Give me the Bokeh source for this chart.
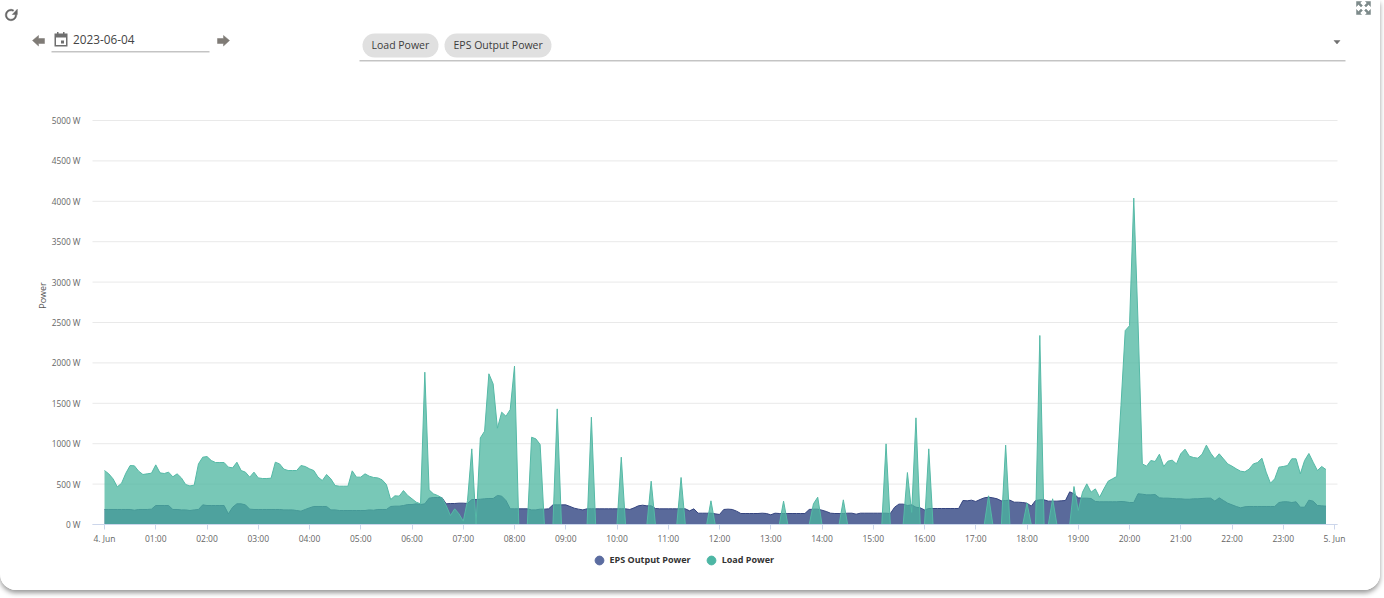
import numpy as np
from bokeh.plotting import figure
from bokeh.models import Range1d, FixedTicker, Legend, LegendItem, ColumnDataSource
from bokeh.core.properties import value
from bokeh.embed import file_html
from bokeh.resources import INLINE

DATE_TEXT = "2023-06-04"
CHIPS = ["Load Power", "EPS Output Power"]
Y_TICKS = [0, 500, 1000, 1500, 2000, 2500, 3000, 3500, 4000, 4500, 5000]
Y_LABELS = [f"{v} W" for v in Y_TICKS]
X_TICKS = list(range(25))
X_LABELS = ["4. Jun"] + [f"{h:02d}:00" for h in range(1, 24)] + ["5. Jun"]

# Values every 5 minutes, one row per hour of the day
load_00 = [668,627,565,466,511,635,730,726,660,619,627,635]
load_01 = [738,639,631,648,590,627,577,495,478,487,750,833]
load_02 = [841,792,767,767,767,710,701,771,668,648,586,648]
load_03 = [577,569,569,573,771,750,685,668,668,668,730,718]
load_04 = [689,668,586,544,619,565,482,474,474,474,664,586]
load_05 = [586,627,598,582,577,553,495,309,355,351,420,359]
load_06 = [318,276,256,1885,429,380,359,330,235,111,194,132]
load_07 = [41,297,936,0,1072,1155,1865,1740,1192,1390,1340,1423]
load_08 = [1960,0,0,0,1080,1060,990,0,0,0,1431,0]
load_09 = [0,0,0,0,0,0,1328,0,0,0,0,0]
load_10 = [0,833,0,0,0,0,0,0,536,0,0,0]
load_11 = [0,0,0,582,0,0,0,0,0,0,293,0]
load_12 = [0,0,0,0,0,0,0,0,0,0,0,0]
load_13 = [0,0,0,289,0,0,0,0,0,0,256,338]
load_14 = [0,0,0,0,0,305,0,0,0,0,0,0]
load_15 = [0,0,0,998,0,0,0,0,643,150,1320,0]
load_16 = [0,936,0,0,0,0,0,0,0,0,0,0]
load_17 = [0,0,0,355,0,0,0,982,0,0,0,0]
load_18 = [264,0,0,2339,0,0,318,0,0,0,0,470]
load_19 = [173,400,503,400,441,338,441,536,565,594,1470,2400]
load_20 = [2460,4040,2500,750,722,792,780,870,718,784,796,750]
load_21 = [875,932,846,829,821,870,982,883,813,875,813,750]
load_22 = [722,689,660,652,685,750,767,821,648,511,565,710]
load_23 = [718,730,813,813,627,792,879,771,668,718,680]

eps_00 = [186,186,186,186,186,186,186,177,186,186,186,190]
eps_01 = [235,235,235,235,186,186,181,181,173,181,186,243]
eps_02 = [235,235,235,235,235,132,214,256,256,243,190,186]
eps_03 = [186,186,186,186,186,186,181,181,181,173,165,186]
eps_04 = [206,223,223,223,223,181,181,173,173,173,173,173]
eps_05 = [173,173,181,177,186,186,186,223,227,227,235,247]
eps_06 = [247,256,247,256,326,334,334,334,256,260,260,264]
eps_07 = [264,260,309,309,313,318,322,322,359,351,297,194]
eps_08 = [194,194,194,194,181,181,190,190,194,243,243,243]
eps_09 = [243,223,202,190,181,194,194,194,194,194,194,194]
eps_10 = [194,194,194,186,206,231,239,231,231,198,194,194]
eps_11 = [194,194,194,194,194,169,194,140,140,140,140,132]
eps_12 = [124,186,190,186,165,136,136,136,136,136,140,136]
eps_13 = [120,140,136,136,136,136,136,136,136,186,190,190]
eps_14 = [177,161,140,136,136,136,140,140,128,140,140,140]
eps_15 = [140,140,140,140,136,214,252,252,235,243,214,206]
eps_16 = [181,198,198,198,198,198,198,198,198,297,293,301]
eps_17 = [285,309,330,338,330,318,293,297,301,276,276,272]
eps_18 = [264,227,297,305,305,289,289,289,293,297,404,380]
eps_19 = [330,326,326,322,285,281,281,281,281,281,285,281]
eps_20 = [272,272,380,375,367,367,371,330,326,326,322,318]
eps_21 = [318,313,313,318,318,322,326,326,289,330,297,264]
eps_22 = [243,223,206,219,223,223,223,223,223,223,223,272]
eps_23 = [281,281,272,281,214,214,301,289,235,231,227]

load_rows = [load_00,load_01,load_02,load_03,load_04,load_05,load_06,load_07,load_08,load_09,load_10,load_11,
             load_12,load_13,load_14,load_15,load_16,load_17,load_18,load_19,load_20,load_21,load_22,load_23]
eps_rows = [eps_00,eps_01,eps_02,eps_03,eps_04,eps_05,eps_06,eps_07,eps_08,eps_09,eps_10,eps_11,
            eps_12,eps_13,eps_14,eps_15,eps_16,eps_17,eps_18,eps_19,eps_20,eps_21,eps_22,eps_23]
load = [v for r in load_rows for v in r]
eps = [v for r in eps_rows for v in r]
hours = [i * 5 / 60 for i in range(len(load))]

FONT = "Open Sans"
W, H = 1380, 590
PX_H, PX_W = 51.25, 0.0808       # pixels per hour, pixels per watt
X0, Y0 = 104, 524                # pixel position of 00:00 and 0 W
fx = lambda px: (px - X0) / PX_H
fy = lambda py: (Y0 - py) / PX_W

p = figure(width=W, height=H, output_backend="svg", toolbar_location=None,
           x_range=Range1d(fx(0), fx(W)), y_range=Range1d(fy(H), fy(0)), min_border=0,
           outline_line_color=None, background_fill_color="white", border_fill_color="white")
p.styles = {"box-shadow": "0 3px 5px #999", "border-radius": "0 0 16px 16px", "overflow": "hidden"}

# ---- control strip above the chart, placed in page pixels ----
def poly(pts, fill="#777777"):
    p.patch([fx(a) for a, _ in pts], [fy(b) for _, b in pts], fill_color=fill, line_color=fill, line_width=0.5)
def box(l, t, r, b, fill="#777777"):
    p.quad(left=[fx(l)], right=[fx(r)], top=[fy(t)], bottom=[fy(b)], fill_color=fill, line_color=None)
def pill(l, t, r, b, fill):
    rad = (b - t) / 2
    ang = np.radians(np.linspace(-90, 90, 16))
    pts = [(r - rad + rad * np.cos(x), (t + b) / 2 + rad * np.sin(x)) for x in ang]
    pts += [(l + rad - rad * np.cos(x), (t + b) / 2 - rad * np.sin(x)) for x in ang]
    p.patch([fx(a) for a, _ in pts], [fy(c) for _, c in pts], fill_color=fill, line_color=None)
def label(x, y, text, size, color="#444444"):
    p.text([fx(x)], [fy(y)], text=[text], text_font=value(FONT), text_font_size=size, text_color=color,
           text_baseline="middle", text_align="left")

# refresh icon
a = np.radians(np.linspace(-5, 300, 30))
cx, cy, ro, ri = 10.5, 14.5, 5.7, 4.2
ring = [(cx + ro * np.cos(t), cy + ro * np.sin(t)) for t in a] + [(cx + ri * np.cos(t), cy + ri * np.sin(t)) for t in a[::-1]]
poly(ring, "#666666")
poly([(16.8, 8.7), (16.8, 14), (11.8, 14)], "#666666")

# date picker
poly([(32, 40), (38, 35), (38, 38), (44, 38), (44, 43), (38, 43), (38, 45.5)], "#7f7b76")
poly([(229, 40), (223, 35), (223, 38), (217, 38), (217, 43), (223, 43), (223, 45.5)], "#7f7b76")
box(54, 33, 67, 46, "#6f6f6f")
box(55.5, 37, 65.5, 44.5, "white")
box(56.5, 31.5, 58, 34, "#6f6f6f")
box(62.5, 31.5, 64, 34, "#6f6f6f")
box(60.5, 40, 63.5, 43, "#6f6f6f")
label(72.5, 39, DATE_TEXT, "11.8px")
box(51, 51, 209, 51.8, "#8a8a8a")

# chips
pill(362, 33, 438, 57, "#e0e0e0")
pill(444, 33, 551, 57, "#e0e0e0")
label(371, 44, CHIPS[0], "10.5px", "#3c3c3c")
label(453, 44, CHIPS[1], "10.5px", "#3c3c3c")
box(359, 60, 1345, 60.8, "#8a8a8a")
poly([(1333.5, 40), (1339.5, 40), (1336.5, 43.5)], "#6f6f6f")

# fullscreen icon
ic = "#7d8a8a"
poly([(1356, 1), (1361, 1), (1359.5, 2.5), (1362, 5), (1360.5, 6.5), (1358, 4), (1356, 6)], ic)
poly([(1370, 1), (1365, 1), (1366.5, 2.5), (1364, 5), (1365.5, 6.5), (1368, 4), (1370, 6)], ic)
poly([(1356, 14), (1361, 14), (1359.5, 12.5), (1362, 10), (1360.5, 8.5), (1358, 11), (1356, 9)], ic)
poly([(1370, 14), (1365, 14), (1366.5, 12.5), (1364, 10), (1365.5, 8.5), (1368, 11), (1370, 9)], ic)

# ---- chart ----
p.grid.visible = False
LEFT, RIGHT = fx(92), fx(1337)
p.segment(x0=[LEFT] * len(Y_TICKS), x1=[RIGHT] * len(Y_TICKS), y0=Y_TICKS, y1=Y_TICKS,
          line_color="#e9e9e9", line_width=1)

src = ColumnDataSource(dict(h=hours, load=load, eps=eps, zero=[0] * len(load)))
p.varea("h", "zero", "eps", source=src, fill_color="#23387a", fill_alpha=0.75)
p.line("h", "eps", source=src, line_color="#34447f", line_width=1.0)
p.varea("h", "zero", "load", source=src, fill_color="#4bb69f", fill_alpha=0.75)
p.line("h", "load", source=src, line_color="#55b9a6", line_width=1.0)

ya = p.yaxis[0]
ya.fixed_location = LEFT
ya.ticker = FixedTicker(ticks=Y_TICKS)
ya.major_label_overrides = dict(zip(Y_TICKS, Y_LABELS))
ya.axis_line_color = None
ya.major_tick_line_color = None
ya.minor_tick_line_color = None
ya.major_label_standoff = 6
ya.major_label_text_font = FONT
ya.major_label_text_font_size = "8.3px"
ya.major_label_text_color = "#666666"
ya.axis_label = "Power"
ya.axis_label_text_font = FONT
ya.axis_label_text_font_size = "9px"
ya.axis_label_text_font_style = "normal"
ya.axis_label_text_color = "#555555"
ya.axis_label_standoff = 0

xa = p.xaxis[0]
xa.fixed_location = 0
xa.bounds = (LEFT, RIGHT)
xa.ticker = FixedTicker(ticks=X_TICKS)
xa.major_label_overrides = dict(zip(X_TICKS, X_LABELS))
xa.axis_line_color = "#ccd6eb"
xa.major_tick_line_color = "#ccd6eb"
xa.major_tick_in = 0
xa.major_tick_out = 5
xa.minor_tick_line_color = None
xa.major_label_standoff = 3
xa.major_label_text_font = FONT
xa.major_label_text_font_size = "8.5px"
xa.major_label_text_color = "#666666"

# Legend with round markers
d_eps = p.scatter([np.nan], [np.nan], marker="circle", color="#5b6ca0")
d_load = p.scatter([np.nan], [np.nan], marker="circle", color="#4db6a4")
lg = Legend(items=[LegendItem(label="EPS Output Power", renderers=[d_eps]),
                   LegendItem(label="Load Power", renderers=[d_load])],
            orientation="horizontal", location=(587.5, H - 570.5), padding=0, margin=0, spacing=9,
            glyph_width=22, glyph_height=22, label_standoff=0, background_fill_alpha=0,
            border_line_color=None, label_text_font=FONT, label_text_font_size="9px",
            label_text_font_style="bold", label_text_color="#333333", label_height=10)
p.add_layout(lg)

open("out.html", "w").write(file_html(p, INLINE))
